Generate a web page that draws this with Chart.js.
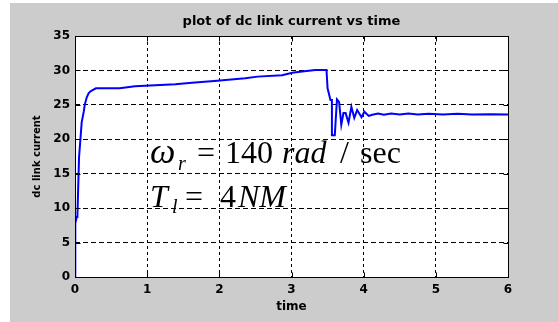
<!DOCTYPE html>
<html>
<head>
<meta charset="utf-8">
<title>plot of dc link current vs time</title>
<script src="https://cdn.jsdelivr.net/npm/chart.js@4.4.1/dist/chart.umd.min.js"></script>
<style>
  html, body { margin: 0; padding: 0; background: #fff; }
  canvas { display: block; }
</style>
</head>
<body>
<canvas id="chart" width="558" height="322"></canvas>
<script>
// time axis (s) and dc link current
const timeSec = [
  0, 0.004, 0.024, 0.033, 0.056, 0.065, 0.093, 0.121, 0.135, 0.163, 0.19, 0.22, 0.29,
  0.62, 0.83, 1.39, 1.62, 1.97, 2.36, 2.53, 2.87, 3.01, 3.12, 3.33, 3.485,
  3.50, 3.54, 3.56, 3.56, 3.60, 3.63, 3.66, 3.69, 3.72, 3.75, 3.79, 3.83, 3.87, 3.91,
  3.97, 4.01, 4.07, 4.12, 4.20, 4.28, 4.38, 4.50, 4.62, 4.75, 4.90, 5.10, 5.30, 5.50,
  5.75, 6.0
];
const dcCurrent = [
  0, 7.8, 8.7, 8.7, 17.4, 17.4, 22.5, 24.0, 25.0, 26.1, 26.7, 27.0, 27.4,
  27.4, 27.7, 28.0, 28.2, 28.5, 28.85, 29.1, 29.3, 29.65, 29.8, 30.05, 30.05,
  27.4, 25.7, 25.7, 20.6, 20.6, 25.8, 25.4, 22.1, 23.8, 23.8, 22.4, 24.7, 23.1, 24.25,
  23.2, 24.0, 23.4, 23.55, 23.75, 23.55, 23.75, 23.6, 23.75, 23.6, 23.7, 23.6, 23.7, 23.6,
  23.65, 23.6
];
const xTicks = [0, 1, 2, 3, 4, 5, 6];
const yTicks = [0, 5, 10, 15, 20, 25, 30, 35];
const chartTitle = 'plot of dc link current vs time';

const points = timeSec.map((t, i) => ({ x: t, y: dcCurrent[i] }));

const tickFont = { family: 'DejaVu Sans', size: 12, weight: 'bold' };

const matlabFrame = {
  id: 'matlabFrame',
  beforeDraw(chart) {
    const ctx = chart.ctx;
    const a = chart.chartArea;
    ctx.save();
    ctx.fillStyle = '#ffffff';
    ctx.fillRect(0, 0, chart.width, chart.height);
    ctx.fillStyle = '#cccccc';
    ctx.fillRect(10, 3, chart.width - 10, chart.height - 3);
    ctx.fillStyle = '#ffffff';
    ctx.fillRect(a.left, a.top, a.right - a.left, a.bottom - a.top);
    ctx.restore();
  },
  afterDraw(chart) {
    const ctx = chart.ctx;
    const a = chart.chartArea;
    const L = Math.round(a.left) + 0.5, R = Math.round(a.right) + 0.5;
    const T = Math.round(a.top) + 0.5, B = Math.round(a.bottom) + 0.5;
    ctx.save();
    ctx.strokeStyle = '#000';
    ctx.lineWidth = 1;
    ctx.setLineDash([]);
    ctx.strokeRect(L, T, R - L, B - T);
    // small inward tick marks on all four sides
    ctx.beginPath();
    xTicks.forEach(v => {
      const px = Math.round(chart.scales.x.getPixelForValue(v)) + 0.5;
      ctx.moveTo(px, B); ctx.lineTo(px, B - 5);
      ctx.moveTo(px, T); ctx.lineTo(px, T + 5);
    });
    yTicks.forEach(v => {
      const py = Math.round(chart.scales.y.getPixelForValue(v)) + 0.5;
      ctx.moveTo(L, py); ctx.lineTo(L + 5, py);
      ctx.moveTo(R, py); ctx.lineTo(R - 5, py);
    });
    ctx.stroke();

    // title centred over the axes box, like matlab
    ctx.fillStyle = '#000';
    ctx.font = 'bold 13px "DejaVu Sans"';
    ctx.textAlign = 'center';
    ctx.textBaseline = 'middle';
    ctx.fillText(chartTitle, (a.left + a.right) / 2, 22);

    // annotation text
    ctx.textBaseline = 'alphabetic';
    ctx.textAlign = 'left';
    const it = 'italic 32px "Liberation Serif"';
    const up = '32px "Liberation Serif"';
    const sub = 'italic 20px "Liberation Serif"';
    ctx.font = 'italic 36px "Liberation Serif"'; ctx.fillText('\u03c9', 150, 163);
    ctx.font = sub; ctx.fillText('r', 178, 170);
    ctx.font = up;  ctx.fillText('=', 197, 163);
    ctx.font = up;  ctx.fillText('140', 225, 163);
    ctx.font = it;  ctx.fillText('rad', 282, 163);
    ctx.font = up;  ctx.fillText('/', 340, 163);
    ctx.font = up;  ctx.fillText('sec', 360, 163);

    ctx.font = it;  ctx.fillText('T', 150, 207);
    ctx.font = sub; ctx.fillText('l', 172, 213);
    ctx.font = up;  ctx.fillText('=', 185, 207);
    ctx.font = up;  ctx.fillText('4', 220, 207);
    ctx.font = it;  ctx.fillText('NM', 238, 207);
    ctx.restore();
  }
};

new Chart(document.getElementById('chart'), {
  type: 'line',
  data: {
    datasets: [{
      label: 'dc link current',
      data: points,
      borderColor: '#0000ff',
      borderWidth: 2,
      pointRadius: 0,
      tension: 0,
      fill: false
    }]
  },
  options: {
    responsive: false,
    animation: false,
    devicePixelRatio: 1,
    layout: { padding: { left: 10, top: 36, right: 50, bottom: 0 } },
    plugins: {
      legend: { display: false },
      tooltip: { enabled: false },
      title: { display: false }
    },
    scales: {
      x: {
        type: 'linear',
        min: 0,
        max: 6,
        afterFit: s => { s.height = 45; },
        afterBuildTicks: s => { s.ticks = xTicks.map(v => ({ value: v })); },
        ticks: { color: '#000', font: tickFont, padding: 6, maxRotation: 0 },
        grid: { color: '#000', lineWidth: 1, drawTicks: false },
        border: { display: false, dash: [3, 3] },
        title: {
          display: true,
          text: 'time',
          color: '#000',
          font: { family: 'DejaVu Sans', size: 12, weight: 'bold' },
          padding: { top: 0, bottom: 8 }
        }
      },
      y: {
        type: 'linear',
        min: 0,
        max: 35,
        afterFit: s => { s.width = 65; },
        afterBuildTicks: s => { s.ticks = yTicks.map(v => ({ value: v })); },
        ticks: { color: '#000', font: tickFont, padding: 5 },
        grid: { color: '#000', lineWidth: 1, drawTicks: false },
        border: { display: false, dash: [5, 3] },
        title: {
          display: true,
          text: 'dc link current',
          color: '#000',
          font: { family: 'DejaVu Sans', size: 10, weight: 'bold' },
          padding: { top: 21, bottom: 0 }
        }
      }
    }
  },
  plugins: [matlabFrame]
});
</script>
</body>
</html>
